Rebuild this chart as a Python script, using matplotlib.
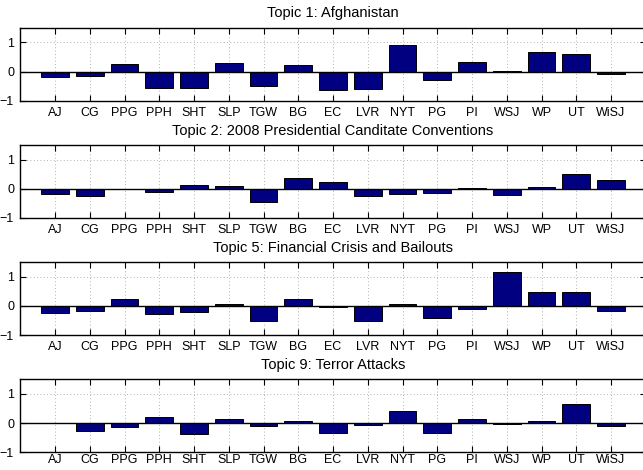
import matplotlib
matplotlib.use("Agg")
import matplotlib.pyplot as plt
import numpy as np

plt.rcParams["font.family"] = ["Liberation Sans", "DejaVu Sans"]

sources = ["AJ", "CG", "PPG", "PPH", "SHT", "SLP", "TGW", "BG", "EC", "LVR",
           "NYT", "PG", "PI", "WSJ", "WP", "UT", "WiSJ"]

titles = ["Topic 1: Afghanistan",
          "Topic 2: 2008 Presidential Canditate Conventions",
          "Topic 5: Financial Crisis and Bailouts",
          "Topic 9: Terror Attacks"]

topic1 = [-0.20, -0.16, 0.27, -0.56, -0.55, 0.31, -0.50, 0.21, -0.62, -0.58,
          0.90, -0.30, 0.33, 0.01, 0.66, 0.61, -0.09]
topic2 = [-0.17, -0.24, 0.01, -0.12, 0.13, 0.10, -0.44, 0.38, 0.23, -0.23,
          -0.17, -0.16, 0.02, -0.22, 0.07, 0.51, 0.30]
topic5 = [-0.25, -0.16, 0.24, -0.28, -0.22, 0.06, -0.50, 0.24, -0.02, -0.53,
          0.06, -0.40, -0.09, 1.15, 0.48, 0.48, -0.16]
topic9 = [0.01, -0.26, -0.14, 0.20, -0.38, 0.13, -0.09, 0.09, -0.32, -0.05,
          0.41, -0.32, 0.13, -0.02, 0.09, 0.66, -0.09]
series = [topic1, topic2, topic5, topic9]

W, H = 643, 470
fig = plt.figure(figsize=(W / 100, H / 100), dpi=100)

# axes box in pixels (right edge runs past the image, as in the original)
left, right = 20.3, 645.8
tops = [27.8, 145.0, 262.2, 379.4]
hgt = 73.0
x = np.arange(1, len(sources) + 1)

for i, (t, vals, top) in enumerate(zip(titles, series, tops)):
    ax = fig.add_axes([left / W, 1 - (top + hgt) / H, (right - left) / W, hgt / H])
    ax.bar(x, vals, width=0.8, color="#000080", edgecolor="black", linewidth=0.7, zorder=3)
    ax.axhline(0, color="black", lw=1.0, zorder=4)
    ax.set_xlim(0, 18)
    ax.set_ylim(-1, 1.5)
    ax.set_yticks([-1, 0, 1])
    ax.set_xticks(x)
    ax.set_xticklabels(sources)
    ax.grid(True, ls=(0, (1, 3)), color="#999999", lw=0.6, zorder=0)
    ax.tick_params(direction="in", length=4, labelsize=9, pad=4.5,
                   top=True, right=True, width=0.8)
    if i == 3:
        # keep the last row of labels inside the image
        ax.tick_params(axis="x", pad=1.5)
    for s in ax.spines.values():
        s.set_linewidth(1.0)
    ax.set_title(t, fontsize=10.5, pad=7.5)

fig.savefig("out.png", dpi=100)
